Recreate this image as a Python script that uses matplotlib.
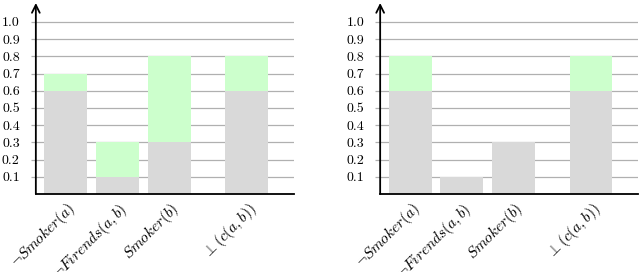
import matplotlib
matplotlib.use('Agg')
import matplotlib.pyplot as plt
import numpy as np

plt.rcParams['mathtext.fontset'] = 'cm'
plt.rcParams['font.family'] = 'serif'
plt.rcParams['font.serif'] = ['cmr10', 'Liberation Serif', 'DejaVu Serif']
plt.rcParams['axes.formatter.use_mathtext'] = True

labels = [r'$\neg Smoker(a)$', r'$\neg Firends(a,b)$', r'$Smoker(b)$', r'$\bot(c(a,b))$']
positions = [0, 1, 2, 3.5]

left_base = [0.6, 0.1, 0.3, 0.6]
left_total = [0.7, 0.3, 0.8, 0.8]
right_base = [0.6, 0.1, 0.3, 0.6]
right_total = [0.8, 0.1, 0.3, 0.8]

yticks = [0.1, 0.2, 0.3, 0.4, 0.5, 0.6, 0.7, 0.8, 0.9, 1.0]

gray = '#d9d9d9'
green = '#ccffcc'

fig = plt.figure(figsize=(6.4, 2.72), dpi=100)
ax1 = fig.add_axes([0.056, 0.287, 0.403, 0.702])
ax2 = fig.add_axes([0.594, 0.287, 0.403, 0.702])


def draw_panel(ax, base, total):
    base = np.array(base)
    total = np.array(total)
    ax.bar(positions, base, width=0.83, color=gray, edgecolor='none', zorder=2)
    ax.bar(positions, total - base, bottom=base, width=0.83, color=green,
           edgecolor='none', zorder=2)
    ax.set_xlim(-0.58, 4.41)
    ax.set_ylim(0, 1.11)
    ax.set_yticks(yticks)
    ax.set_yticklabels(['%.1f' % v for v in yticks], fontsize=10)
    ax.yaxis.grid(True, color='#b0b0b0', linewidth=0.9, zorder=1)
    ax.tick_params(axis='y', length=3.5, width=0.9, color='#b0b0b0', pad=8)
    ax.set_xticks(positions)
    ax.set_xticklabels(labels, rotation=45, ha='right', rotation_mode='anchor',
                       fontsize=11)
    ax.tick_params(axis='x', length=0, pad=4)
    ax.spines['top'].set_visible(False)
    ax.spines['right'].set_visible(False)
    ax.spines['left'].set_visible(False)
    ax.spines['bottom'].set_linewidth(1.3)
    ax.annotate('', xy=(0, 1.0), xytext=(0, 0), xycoords='axes fraction',
                textcoords='axes fraction',
                arrowprops=dict(arrowstyle='->', lw=1.3, color='black',
                                mutation_scale=14, shrinkA=0, shrinkB=0),
                zorder=5)


draw_panel(ax1, left_base, left_total)
draw_panel(ax2, right_base, right_total)

fig.savefig('out.png', dpi=100)
